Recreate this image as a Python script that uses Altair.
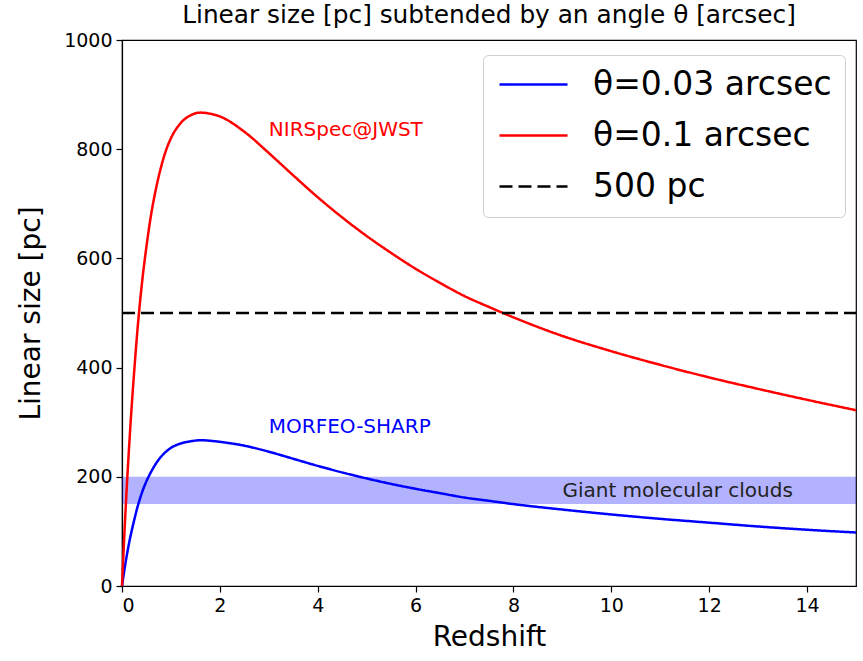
import altair as alt
import pandas as pd

# ---- data ----
z_red = [0, 0.05, 0.1, 0.15, 0.2, 0.25, 0.3, 0.4, 0.5, 0.6, 0.7, 0.8, 0.9, 1.0, 1.2, 1.4,
         1.6, 1.8, 2.0, 2.5, 3.0, 3.5, 4.0, 4.5, 5.0, 5.5, 6.0, 6.5, 7.0, 7.5, 8.0,
         9.0, 10, 11, 12, 13, 14, 15]
size_red = [0, 98, 185, 262, 332, 394, 452, 548, 622, 683, 730, 768, 798, 820, 848, 862,
            867, 865, 860, 832, 793, 752, 712, 675, 641, 610, 581, 555, 531, 511, 492,
            458, 430, 405, 382, 361, 341, 322]

z_blue = [0, 0.05, 0.1, 0.15, 0.2, 0.25, 0.3, 0.4, 0.5, 0.6, 0.7, 0.8, 0.9, 1.0, 1.2, 1.4,
          1.6, 1.8, 2.0, 2.5, 3.0, 3.5, 4.0, 4.5, 5.0, 5.5, 6.0, 6.5, 7.0, 7.5, 8.0,
          9.0, 10, 11, 12, 13, 14, 15]
size_blue = [0, 30, 57, 81, 102, 121, 139, 169, 192, 210, 225, 237, 246, 253, 261, 265,
             267, 266, 264, 257, 246, 233, 220, 208, 197, 187, 178, 170, 162, 156, 150,
             140, 131, 123, 116, 109, 103, 98]

ref_z = [0, 15]
ref_size = [500, 500]

series_names = ["θ=0.03 arcsec", "θ=0.1 arcsec", "500 pc"]
series_colors = ["blue", "red", "black"]
series_dash = [[1, 0], [1, 0], [13, 6]]

band_z = [0, 15]
band_size = [150, 200]

note_text = ["NIRSpec@JWST", "MORFEO-SHARP", "Giant molecular clouds"]
note_z = [3.0, 3.0, 9.0]
note_size = [835, 291, 174]
note_color = ["red", "blue", "#222222"]

x_ticks = [0, 2, 4, 6, 8, 10, 12, 14]
y_ticks = [0, 200, 400, 600, 800, 1000]

FONT = "DejaVu Sans"

# ---- tables ----
lines = pd.concat([
    pd.DataFrame({"z": z_blue, "size": size_blue, "series": series_names[0]}),
    pd.DataFrame({"z": z_red, "size": size_red, "series": series_names[1]}),
    pd.DataFrame({"z": ref_z, "size": ref_size, "series": series_names[2]}),
], ignore_index=True)

band = pd.DataFrame({"z0": [band_z[0]], "z1": [band_z[1]],
                     "lo": [band_size[0]], "hi": [band_size[1]]})
notes = pd.DataFrame({"z": note_z, "size": note_size, "text": note_text, "col": note_color})

xscale = alt.Scale(domain=[0, 15], nice=False, zero=False)
yscale = alt.Scale(domain=[0, 1000], nice=False)

x_axis = alt.Axis(values=x_ticks, title="Redshift", titlePadding=8)
y_axis = alt.Axis(values=y_ticks, title="Linear size [pc]", titlePadding=18, format="d")

band_layer = alt.Chart(band).mark_rect(color="blue", opacity=0.3).encode(
    x=alt.X("z0:Q", scale=xscale, axis=x_axis),
    x2="z1:Q",
    y=alt.Y("lo:Q", scale=yscale, axis=y_axis),
    y2="hi:Q",
)

legend = alt.Legend(
    title=None, orient="none", legendX=361, legendY=15,
    symbolType="M-3,0L3,0", symbolSize=514, symbolStrokeWidth=2.5,
    symbolOffset=21, labelOffset=43, labelLimit=0,
    labelFont=FONT, labelFontSize=33, labelColor="black",
    padding=13, rowPadding=17,
    strokeColor="#d0d0d0", fillColor="white", cornerRadius=5,
)

line_layer = alt.Chart(lines).mark_line(strokeWidth=2.5, interpolate="monotone").encode(
    x=alt.X("z:Q", scale=xscale, axis=x_axis),
    y=alt.Y("size:Q", scale=yscale, axis=y_axis),
    color=alt.Color("series:N", scale=alt.Scale(domain=series_names, range=series_colors),
                    legend=legend, sort=series_names),
    strokeDash=alt.StrokeDash("series:N", scale=alt.Scale(domain=series_names, range=series_dash),
                              legend=legend, sort=series_names),
)

text_layer = alt.Chart(notes).mark_text(
    align="left", baseline="middle", font=FONT, fontSize=20
).encode(
    x=alt.X("z:Q", scale=xscale),
    y=alt.Y("size:Q", scale=yscale),
    text="text:N",
    color=alt.Color("col:N", scale=None),
)

chart = alt.layer(band_layer, line_layer, text_layer).properties(
    width=863, height=661,
    autosize=alt.AutoSizeParams(type="fit", contains="padding"),
    title=alt.Title("Linear size [pc] subtended by an angle θ [arcsec]",
                    font=FONT, fontSize=24.8, fontWeight="normal", color="black", offset=3),
    padding={"left": 17, "top": 3, "right": 2, "bottom": 10},
).configure_axis(
    labelFont=FONT, labelFontSize=19, labelColor="black",
    titleFont=FONT, titleFontSize=28, titleFontWeight="normal", titleColor="black",
    domainColor="black", domainWidth=1.2, tickColor="black", tickWidth=1.2,
    tickSize=6, labelPadding=4, grid=False,
).configure_view(
    stroke="black", strokeWidth=1.2,
)

chart.save("out.html", embed_options={"renderer": "svg", "actions": False})
